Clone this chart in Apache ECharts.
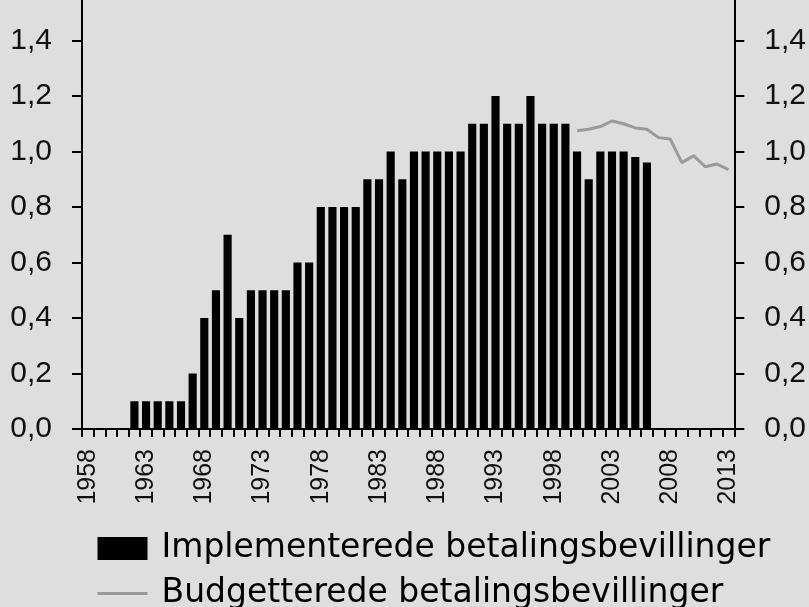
<!DOCTYPE html>
<html>
<head>
<meta charset="utf-8">
<script src="https://cdn.jsdelivr.net/npm/echarts@6/dist/echarts.min.js"></script>
<style>
html,body{margin:0;padding:0;background:#dedede;}
#chart{width:809px;height:607px;}
</style>
</head>
<body>
<div id="chart"></div>
<script>
// Categories: years on the x axis
var years = ['1958','1959','1960','1961','1962','1963','1964','1965','1966','1967',
  '1968','1969','1970','1971','1972','1973','1974','1975','1976','1977',
  '1978','1979','1980','1981','1982','1983','1984','1985','1986','1987',
  '1988','1989','1990','1991','1992','1993','1994','1995','1996','1997',
  '1998','1999','2000','2001','2002','2003','2004','2005','2006','2007',
  '2008','2009','2010','2011','2012','2013'];

// Implementerede betalingsbevillinger (bars), 1962-2006
var implementedYears = ['1962','1963','1964','1965','1966','1967','1968','1969','1970','1971',
  '1972','1973','1974','1975','1976','1977','1978','1979','1980','1981',
  '1982','1983','1984','1985','1986','1987','1988','1989','1990','1991',
  '1992','1993','1994','1995','1996','1997','1998','1999','2000','2001',
  '2002','2003','2004','2005','2006'];
var implementedValues = [0.1,0.1,0.1,0.1,0.1,0.2,0.4,0.5,0.7,0.4,
  0.5,0.5,0.5,0.5,0.6,0.6,0.8,0.8,0.8,0.8,
  0.9,0.9,1.0,0.9,1.0,1.0,1.0,1.0,1.0,1.1,
  1.1,1.2,1.1,1.1,1.2,1.1,1.1,1.1,1.0,0.9,
  1.0,1.0,1.0,0.98,0.96];

// Budgetterede betalingsbevillinger (line), 2000-2013
var budgetYears = ['2000','2001','2002','2003','2004','2005','2006','2007','2008','2009',
  '2010','2011','2012','2013'];
var budgetValues = [1.075,1.08,1.09,1.11,1.10,1.085,1.08,1.05,1.045,0.96,
  0.985,0.945,0.955,0.935];

// Y-axis tick values
var yTicks = [0,0.2,0.4,0.6,0.8,1.0,1.2,1.4];

var seriesNames = ['Implementerede betalingsbevillinger','Budgetterede betalingsbevillinger'];

function alignToYears(ys, vs){
  var out = years.map(function(){ return null; });
  ys.forEach(function(y,i){ out[years.indexOf(y)] = vs[i]; });
  return out;
}

var chart = echarts.init(document.getElementById('chart'), null, {renderer:'canvas'});

function yLabel(v){ return v.toFixed(1).replace('.', ','); }

var yAxisCommon = {
  type:'value', min:0, max:1.546,
  axisLine:{show:true, lineStyle:{color:'#000', width:2}},
  axisTick:{show:true, length:10, lineStyle:{color:'#000', width:2}, customValues: yTicks},
  axisLabel:{customValues: yTicks, formatter: yLabel, fontFamily:'Liberation Sans', fontSize:30, color:'#111', margin:30},
  splitLine:{show:false}
};

chart.setOption({
  backgroundColor:'#dedede',
  animation:false,
  grid:{left:82, right:74, top:0, bottom:178, containLabel:false},
  xAxis:{
    type:'category', data: years, boundaryGap:true,
    axisLine:{lineStyle:{color:'#000', width:2}},
    axisTick:{show:true, interval:0, length:8, alignWithLabel:false, lineStyle:{color:'#000', width:2}},
    axisLabel:{interval:4, rotate:90, fontFamily:'Liberation Sans', fontSize:25, color:'#111', margin:20}
  },
  yAxis:[
    Object.assign({}, yAxisCommon, {position:'left'}),
    Object.assign({}, yAxisCommon, {position:'right'})
  ],
  legend:{
    orient:'vertical', left:96, top:532, height:120, padding:0,
    itemWidth:50, itemHeight:23, itemGap:12,
    textStyle:{fontFamily:'DejaVu Sans', fontSize:33, lineHeight:33, color:'#000', padding:[0,0,0,9]},
    data:[
      {name: seriesNames[0], icon:'rect'},
      {name: seriesNames[1], itemStyle:{opacity:0}, lineStyle:{color:'#9a9a9a', width:3}}
    ]
  },
  series:[
    {
      name: seriesNames[0], type:'bar',
      data: alignToYears(implementedYears, implementedValues),
      barCategoryGap:'30%',
      itemStyle:{color:'#000'}
    },
    {
      name: seriesNames[1], type:'line',
      data: alignToYears(budgetYears, budgetValues),
      symbol:'none', showSymbol:false,
      lineStyle:{color:'#9a9a9a', width:3},
      itemStyle:{color:'#9a9a9a'}
    }
  ]
});
</script>
</body>
</html>
